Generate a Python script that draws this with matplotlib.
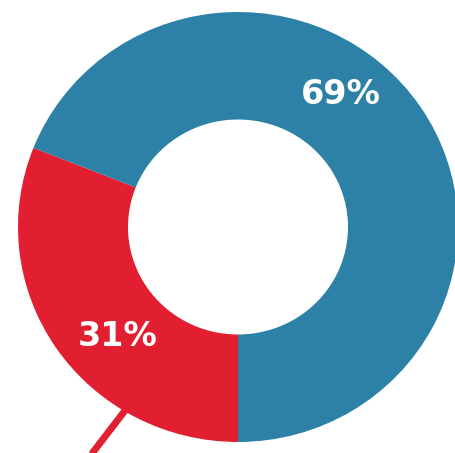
import numpy as np
import matplotlib.pyplot as plt

# Share of responses
labels = ['31%', '69%']
shares = [31, 69]
colors = ['#e21f30', '#2d81a6']

# Where the percentage labels sit (axes units, ring radius = 1)
label_pos = [(-0.545, -0.507), (0.468, 0.614)]

fig = plt.figure(figsize=(4.55, 4.53), dpi=100)
ax = fig.add_axes([0, 0, 1, 1])

# Red slice starts at the bottom and runs clockwise, blue fills the rest
ax.pie(shares, colors=colors, startangle=-90, counterclock=False,
       radius=1.0, wedgeprops=dict(width=0.5, linewidth=0))

for text, (x, y) in zip(labels, label_pos):
    ax.text(x, y, text, color='white', fontsize=24, fontweight='bold',
            ha='center', va='center', family='DejaVu Sans')

# Leader line leaving the red slice towards the bottom
theta = np.deg2rad(-121)
x0, y0 = 0.99 * np.cos(theta), 0.99 * np.sin(theta)
dx, dy = -0.6, -0.8
ax.plot([x0, x0 + 0.35 * dx], [y0, y0 + 0.35 * dy],
        color='#e21f30', linewidth=5, solid_capstyle='butt')

# Ring is slightly wider than tall and runs off the right edge
ax.set_aspect('auto')
ax.set_xlim(-238 / 220, (455 - 238) / 220)
ax.set_ylim(-(453 - 227) / 215, 227 / 215)
ax.axis('off')

plt.savefig('out.png', dpi=100, facecolor='white')
